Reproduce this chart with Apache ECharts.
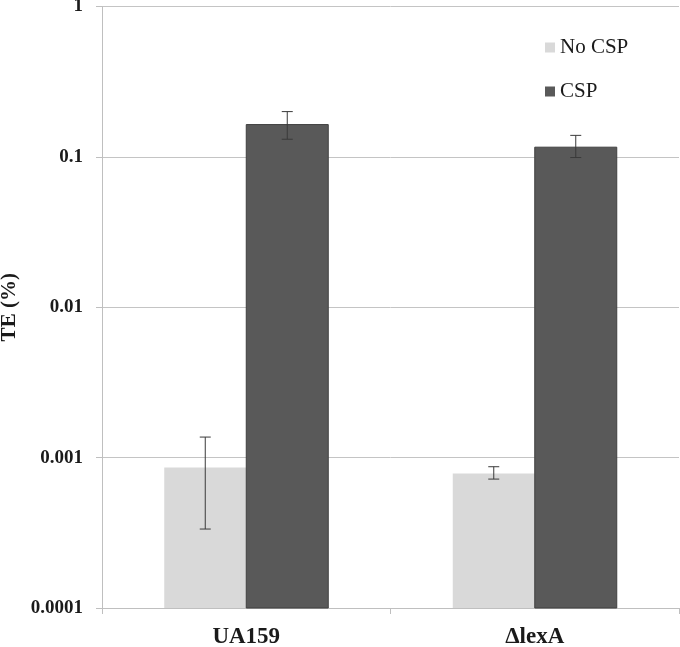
<!DOCTYPE html>
<html>
<head>
<meta charset="utf-8">
<script src="https://cdn.jsdelivr.net/npm/echarts@6/dist/echarts.min.js"></script>
<style>html,body{margin:0;padding:0;background:#fff}#c{width:680px;height:647px}</style>
</head>
<body>
<div id="c"></div>
<script>
var categories = ['UA159', '\u0394lexA'];
var noCsp = [0.00086, 0.000785];
var noCspLow = [0.000335, 0.00072];
var noCspHigh = [0.00137, 0.00087];
var csp = [0.164, 0.116];
var cspLow = [0.131, 0.099];
var cspHigh = [0.200, 0.139];
var yTickLabels = ['0.0001', '0.001', '0.01', '0.1', '1'];

var Y_MIN = 0.0001, Y_MAX = 1;
var BAR_W = 82;
var NO_CSP_COLOR = '#d9d9d9', CSP_COLOR = '#595959';

var chart = echarts.init(document.getElementById('c'), null, {renderer: 'canvas'});

function barSeries(name, values, offset, color, border) {
  return {
    type: 'custom',
    name: name,
    z: 5,
    itemStyle: {color: color},
    data: values.map(function (v, i) { return [i, v]; }),
    encode: {x: 0, y: 1},
    renderItem: function (params, api) {
      var top = api.coord([api.value(0), api.value(1)]);
      var base = api.coord([api.value(0), Y_MIN]);
      var x0 = top[0] + offset - BAR_W / 2;
      var style = {fill: color};
      if (border) { style.stroke = border; style.lineWidth = 1; }
      return {
        type: 'rect',
        shape: {x: x0, y: top[1], width: BAR_W, height: base[1] - top[1]},
        style: style
      };
    }
  };
}

function errSeries(name, low, high, offset) {
  return {
    type: 'custom',
    name: name + ' err',
    z: 10,
    silent: true,
    data: low.map(function (l, i) { return [i, l, high[i]]; }),
    encode: {x: 0, y: [1, 2]},
    renderItem: function (params, api) {
      var lo = api.coord([api.value(0), api.value(1)]);
      var hi = api.coord([api.value(0), api.value(2)]);
      var x = lo[0] + offset;
      var cap = 5.5;
      var st = {stroke: '#3a3a3a', lineWidth: 1};
      return {
        type: 'group',
        children: [
          {type: 'line', shape: {x1: x, y1: lo[1], x2: x, y2: hi[1]}, style: st},
          {type: 'line', shape: {x1: x - cap, y1: lo[1], x2: x + cap, y2: lo[1]}, style: st},
          {type: 'line', shape: {x1: x - cap, y1: hi[1], x2: x + cap, y2: hi[1]}, style: st}
        ]
      };
    }
  };
}

chart.setOption({
  animation: false,
  grid: {left: 102, right: 1, top: 6.5, bottom: 39, containLabel: false, outerBoundsMode: 'none'},
  legend: {
    orient: 'vertical', left: 540, top: 32, itemWidth: 10, itemHeight: 10, itemGap: 23,
    icon: 'rect',
    textStyle: {fontFamily: 'Liberation Serif', fontSize: 21, color: '#1a1a1a'},
    data: [
      {name: 'No CSP', itemStyle: {color: NO_CSP_COLOR, borderWidth: 0}},
      {name: 'CSP', itemStyle: {color: CSP_COLOR, borderWidth: 0}}
    ]
  },
  xAxis: {
    type: 'category', data: categories,
    axisLine: {lineStyle: {color: '#bfbfbf'}},
    axisTick: {show: true, length: 6, lineStyle: {color: '#bfbfbf'}},
    axisLabel: {fontFamily: 'Liberation Serif', fontSize: 23, fontWeight: 'bold', color: '#1a1a1a', margin: 18},
    splitLine: {show: false}
  },
  yAxis: {
    type: 'log', logBase: 10, min: Y_MIN, max: Y_MAX,
    name: 'TE (%)', nameLocation: 'middle', nameGap: 80, nameRotate: 90,
    nameTextStyle: {fontFamily: 'Liberation Serif', fontSize: 21, fontWeight: 'bold', color: '#1a1a1a'},
    axisLine: {show: true, lineStyle: {color: '#bfbfbf'}},
    axisTick: {show: true, inside: false, length: 6, lineStyle: {color: '#bfbfbf'}},
    axisLabel: {
      fontFamily: 'Liberation Serif', fontSize: 19, fontWeight: 'bold', color: '#1a1a1a', margin: 19,
      formatter: function (v) {
        var k = Math.round(Math.log10(v)) + 4;
        return yTickLabels[k] !== undefined ? yTickLabels[k] : '';
      }
    },
    splitLine: {show: true, lineStyle: {color: '#c4c4c4'}}
  },
  series: [
    barSeries('No CSP', noCsp, -BAR_W / 2, NO_CSP_COLOR, null),
    barSeries('CSP', csp, BAR_W / 2, CSP_COLOR, '#404040'),
    errSeries('No CSP', noCspLow, noCspHigh, -BAR_W / 2),
    errSeries('CSP', cspLow, cspHigh, BAR_W / 2)
  ]
});
</script>
</body>
</html>
